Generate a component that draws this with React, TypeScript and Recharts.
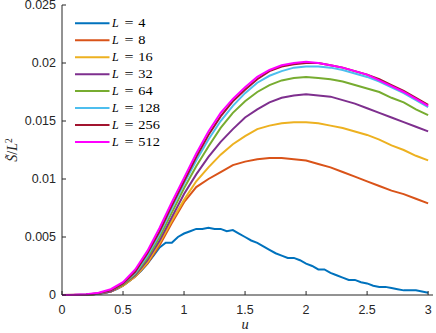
import React from 'react';
import { LineChart, Line, XAxis, YAxis, Legend } from 'recharts';

// x grid (u) for the smooth series, step 0.1
const uCoarse = [0, 0.1, 0.2, 0.3, 0.4, 0.5, 0.6, 0.7, 0.8, 0.9, 1.0, 1.1, 1.2, 1.3, 1.4, 1.5, 1.6, 1.7, 1.8, 1.9, 2.0, 2.1, 2.2, 2.3, 2.4, 2.5, 2.6, 2.7, 2.8, 2.9, 3.0];
// x grid (u) for L = 4, step 0.05
const uFine = [0, 0.05, 0.1, 0.15, 0.2, 0.25, 0.3, 0.35, 0.4, 0.45, 0.5, 0.55, 0.6, 0.65, 0.7, 0.75, 0.8, 0.85, 0.9, 0.95, 1.0, 1.05, 1.1, 1.15, 1.2, 1.25, 1.3, 1.35, 1.4, 1.45, 1.5, 1.55, 1.6, 1.65, 1.7, 1.75, 1.8, 1.85, 1.9, 1.95, 2.0, 2.05, 2.1, 2.15, 2.2, 2.25, 2.3, 2.35, 2.4, 2.45, 2.5, 2.55, 2.6, 2.65, 2.7, 2.75, 2.8, 2.85, 2.9, 2.95, 3.0];

const sL4 = [0, 0, 0.00001, 0.00001, 0.00002, 0.00005, 0.0001, 0.00018, 0.0003, 0.0005, 0.0008, 0.0012, 0.0016, 0.0021, 0.0027, 0.0034, 0.0041, 0.0045, 0.0045, 0.005, 0.0053, 0.0055, 0.0057, 0.0057, 0.0058, 0.0057, 0.0057, 0.0055, 0.0056, 0.0053, 0.005, 0.0047, 0.0045, 0.0042, 0.0039, 0.0036, 0.0034, 0.0032, 0.0032, 0.003, 0.0027, 0.0025, 0.0022, 0.0022, 0.0019, 0.0017, 0.0015, 0.0013, 0.0013, 0.0011, 0.001, 0.0008, 0.0007, 0.0007, 0.0006, 0.0005, 0.0004, 0.0004, 0.0004, 0.0003, 0.0002];
const sL8 = [0, 0.00001, 0.00003, 0.0001, 0.0003, 0.0008, 0.0016, 0.0027, 0.0043, 0.0062, 0.008, 0.0093, 0.01, 0.0106, 0.0112, 0.0115, 0.0117, 0.0118, 0.0118, 0.0117, 0.0116, 0.0113, 0.011, 0.0106, 0.0102, 0.0098, 0.0094, 0.009, 0.0087, 0.0083, 0.0079];
const sL16 = [0, 0.00001, 0.00003, 0.0001, 0.0003, 0.0008, 0.0016, 0.0028, 0.0045, 0.0064, 0.0082, 0.0098, 0.011, 0.0121, 0.013, 0.0137, 0.0143, 0.0146, 0.0148, 0.0149, 0.0149, 0.0148, 0.0146, 0.0144, 0.0141, 0.0138, 0.0134, 0.0129, 0.0125, 0.012, 0.0116];
const sL32 = [0, 0.00001, 0.00003, 0.0001, 0.0003, 0.0009, 0.0017, 0.003, 0.0047, 0.0067, 0.0087, 0.0104, 0.0119, 0.0132, 0.0143, 0.0153, 0.016, 0.0166, 0.017, 0.0172, 0.0173, 0.0172, 0.0171, 0.0168, 0.0165, 0.0161, 0.0157, 0.0153, 0.0149, 0.0145, 0.0141];
const sL64 = [0, 0.00001, 0.00003, 0.0001, 0.0004, 0.0009, 0.0018, 0.0032, 0.005, 0.0071, 0.0092, 0.0111, 0.0128, 0.0144, 0.0157, 0.0167, 0.0175, 0.0181, 0.0185, 0.0187, 0.0188, 0.0187, 0.0186, 0.0184, 0.0181, 0.0178, 0.0175, 0.017, 0.0166, 0.016, 0.0155];
const sL128 = [0, 0.00001, 0.00004, 0.00012, 0.0004, 0.001, 0.0019, 0.0034, 0.0053, 0.0075, 0.0096, 0.0116, 0.0134, 0.015, 0.0163, 0.0174, 0.0183, 0.0189, 0.0193, 0.0196, 0.0197, 0.0197, 0.0196, 0.0194, 0.0191, 0.0188, 0.0184, 0.0179, 0.0174, 0.0168, 0.0162];
const sL256 = [0, 0.00002, 0.00005, 0.00015, 0.0004, 0.001, 0.002, 0.0036, 0.0055, 0.0077, 0.0098, 0.0119, 0.0138, 0.0154, 0.0167, 0.0177, 0.0186, 0.0193, 0.0197, 0.0199, 0.02, 0.02, 0.0198, 0.0196, 0.0193, 0.019, 0.0186, 0.0181, 0.0176, 0.017, 0.0164];
const sL512 = [0, 0.00002, 0.00007, 0.0002, 0.0005, 0.0011, 0.0022, 0.0038, 0.0058, 0.008, 0.0101, 0.0122, 0.0141, 0.0157, 0.0169, 0.0179, 0.0188, 0.0194, 0.0198, 0.02, 0.0201, 0.02, 0.0198, 0.0196, 0.0193, 0.019, 0.0185, 0.018, 0.0175, 0.0169, 0.0163];

const seriesNames = ['4', '8', '16', '32', '64', '128', '256', '512'];
const seriesColors = ['#0072BD', '#D95319', '#EDB120', '#7E2F8E', '#77AC30', '#4DBEEE', '#A2142F', '#FF00FF'];

const xTicks = [0, 0.5, 1, 1.5, 2, 2.5, 3];
const xTickLabels = ['0', '0.5', '1', '1.5', '2', '2.5', '3'];
const yTicks = [0, 0.005, 0.01, 0.015, 0.02, 0.025];
const yTickLabels = ['0', '0.005', '0.01', '0.015', '0.02', '0.025'];

const build = (us: number[], vs: number[]) => us.map((u, i) => ({ u, v: vs[i] }));
const seriesData = [
  build(uFine, sL4),
  build(uCoarse, sL8),
  build(uCoarse, sL16),
  build(uCoarse, sL32),
  build(uCoarse, sL64),
  build(uCoarse, sL128),
  build(uCoarse, sL256),
  build(uCoarse, sL512),
];

const AXIS = '#262626';
const SANS = '"Liberation Sans", Arial, Helvetica, sans-serif';
const SERIF = '"Liberation Serif", "DejaVu Serif", serif';
const TICK = 4;

const labelFor = (ticks: number[], labels: string[], v: number) => {
  const i = ticks.findIndex((t) => Math.abs(t - v) < 1e-9);
  return i >= 0 ? labels[i] : String(v);
};

const sansStyle = { fontFamily: SANS, fontSize: 12.5 };
const serifStyle = { fontFamily: SERIF, fontSize: 12 };

const XTickBottom = (props: any) => {
  const { x, y, payload } = props;
  return (
    <g>
      <line x1={x} x2={x} y1={y} y2={y - TICK} stroke={AXIS} strokeWidth={1} />
      <text x={x} y={y + 19.2} textAnchor="middle" style={sansStyle} fill={AXIS}>
        {labelFor(xTicks, xTickLabels, payload.value)}
      </text>
    </g>
  );
};

const XTickTop = (props: any) => {
  const { x, y } = props;
  return <line x1={x} x2={x} y1={y} y2={y + TICK} stroke={AXIS} strokeWidth={1} />;
};

const YTickLeft = (props: any) => {
  const { x, y, payload } = props;
  return (
    <g>
      <line x1={x} x2={x + TICK} y1={y} y2={y} stroke={AXIS} strokeWidth={1} />
      <text x={x - 6} y={y + 4.4} textAnchor="end" style={sansStyle} fill={AXIS}>
        {labelFor(yTicks, yTickLabels, payload.value)}
      </text>
    </g>
  );
};

const YTickRight = (props: any) => {
  const { x, y } = props;
  return <line x1={x} x2={x - TICK} y1={y} y2={y} stroke={AXIS} strokeWidth={1} />;
};

const XLabel = () => (
  <text x={245} y={329} textAnchor="middle" style={{ fontFamily: SERIF, fontSize: 14.5, fontStyle: 'italic' }} fill={AXIS}>
    u
  </text>
);

const YLabel = () => (
  <text transform="translate(17,150) rotate(-90)" textAnchor="middle" style={{ fontFamily: SERIF, fontSize: 14 }} fill={AXIS}>
    <tspan style={{ fontStyle: 'italic' }}>{'S\u0303'}</tspan>
    <tspan>/</tspan>
    <tspan style={{ fontStyle: 'italic' }}>L</tspan>
    <tspan style={{ fontSize: 9.5 }} dy={-5}>2</tspan>
  </text>
);

const LegendContent = () => (
  <svg width={200} height={160} style={{ position: 'absolute', left: 0, top: 0, overflow: 'visible' }}>
    {seriesNames.map((n, i) => {
      const y = 23.3 + i * 16.95;
      return (
        <g key={n}>
          <line x1={75} x2={109.5} y1={y} y2={y} stroke={seriesColors[i]} strokeWidth={2} />
          <text x={112} y={y + 3.6} style={{ ...serifStyle, fontStyle: 'italic' }} fill="#000">
            L
          </text>
          <text x={124.5} y={y + 3.6} style={serifStyle} fill="#000" textLength={9} lengthAdjust="spacingAndGlyphs">
            =
          </text>
          <text x={138.3} y={y + 3.6} style={serifStyle} fill="#000" textLength={n.length * 7.2} lengthAdjust="spacingAndGlyphs">
            {n}
          </text>
        </g>
      );
    })}
  </svg>
);

export default function App() {
  return (
    <div style={{ position: 'absolute', left: 0, top: 0, width: 436, height: 333, background: '#fff' }}>
      <LineChart width={436} height={333} margin={{ top: 5, right: 3, bottom: 0, left: 0 }}>
        <XAxis
          xAxisId="b"
          dataKey="u"
          type="number"
          domain={[0, 3.04]}
          ticks={xTicks}
          height={38}
          tickSize={0}
          tickMargin={0}
          tickLine={false}
          axisLine={{ stroke: AXIS, strokeWidth: 1 }}
          tick={(p: any) => <XTickBottom {...p} />}
          label={<XLabel />}
          interval={0}
        />
        <XAxis
          xAxisId="t"
          orientation="top"
          dataKey="u"
          type="number"
          domain={[0, 3.04]}
          ticks={xTicks}
          height={0}
          tickSize={0}
          tickMargin={0}
          tickLine={false}
          axisLine={{ stroke: AXIS, strokeWidth: 1 }}
          tick={(p: any) => <XTickTop {...p} />}
          interval={0}
        />
        <YAxis
          yAxisId="l"
          type="number"
          domain={[0, 0.025]}
          ticks={yTicks}
          width={62}
          tickSize={0}
          tickMargin={0}
          tickLine={false}
          axisLine={{ stroke: AXIS, strokeWidth: 1 }}
          tick={(p: any) => <YTickLeft {...p} />}
          label={<YLabel />}
          interval={0}
        />
        <YAxis
          yAxisId="r"
          orientation="right"
          type="number"
          domain={[0, 0.025]}
          ticks={yTicks}
          width={0}
          tickSize={0}
          tickMargin={0}
          tickLine={false}
          axisLine={{ stroke: AXIS, strokeWidth: 1 }}
          tick={(p: any) => <YTickRight {...p} />}
          interval={0}
        />
        {seriesData.map((d, i) => (
          <Line
            key={seriesNames[i]}
            xAxisId="b"
            yAxisId="l"
            data={d}
            dataKey="v"
            name={seriesNames[i]}
            type="linear"
            stroke={seriesColors[i]}
            strokeWidth={2}
            dot={false}
            activeDot={false}
            isAnimationActive={false}
          />
        ))}
        <Legend
          layout="vertical"
          align="center"
          verticalAlign="middle"
          content={() => <LegendContent />}
          wrapperStyle={{ position: 'absolute', left: 0, top: 0, width: 200, height: 160 }}
        />
      </LineChart>
    </div>
  );
}
